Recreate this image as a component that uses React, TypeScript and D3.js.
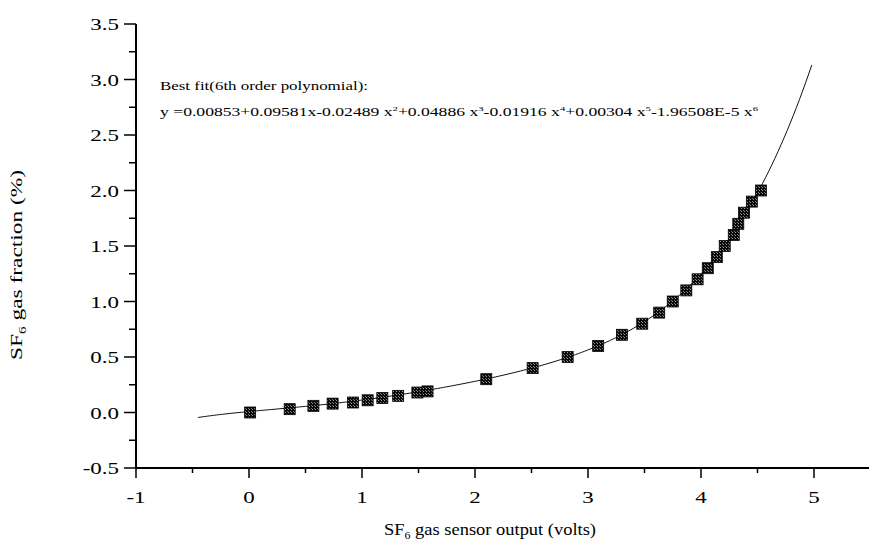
import React from "react";
import * as d3 from "d3";

// Measured data points: sensor output (volts) vs SF6 fraction (%)
const sensorVolts = [0.01, 0.36, 0.57, 0.74, 0.92, 1.05, 1.18, 1.32, 1.49, 1.58, 2.1, 2.51, 2.82, 3.09, 3.3, 3.48, 3.63, 3.75, 3.87, 3.97, 4.06, 4.14, 4.21, 4.29, 4.33, 4.38, 4.45, 4.53];
const sf6Fraction = [0.0, 0.03, 0.06, 0.08, 0.09, 0.11, 0.13, 0.15, 0.18, 0.19, 0.3, 0.4, 0.5, 0.6, 0.7, 0.8, 0.9, 1.0, 1.1, 1.2, 1.3, 1.4, 1.5, 1.6, 1.7, 1.8, 1.9, 2.0];

// Best-fit 6th order polynomial coefficients (c0..c6), as printed on the chart
const fitCoefficients = [0.00853, 0.09581, -0.02489, 0.04886, -0.01916, 0.00304, -1.96508e-5];
const fitRange = [-0.45, 4.98];

const xTicks = [-1, 0, 1, 2, 3, 4, 5];
const xMinorTicks = [-0.5, 0.5, 1.5, 2.5, 3.5, 4.5, 5.5];
const yTicks = [-0.5, 0.0, 0.5, 1.0, 1.5, 2.0, 2.5, 3.0, 3.5];
const yMinorTicks = [-0.25, 0.25, 0.75, 1.25, 1.75, 2.25, 2.75, 3.25];

const FONT = "'Liberation Serif', 'Times New Roman', serif";

export default function App() {
  const W = 869, H = 544;
  const x = d3.scaleLinear().domain([-1, 5.5]).range([136, 136 + 6.5 * 113.0]);
  const y = d3.scaleLinear().domain([-0.5, 3.5]).range([468, 24]);

  const poly = (v: number) => fitCoefficients.reduce((s, c, i) => s + c * Math.pow(v, i), 0);
  const n = 200;
  const fitPts: [number, number][] = d3.range(n + 1).map((i) => {
    const v = fitRange[0] + ((fitRange[1] - fitRange[0]) * i) / n;
    return [v, poly(v)];
  });
  const line = d3.line<[number, number]>().x((d) => x(d[0])).y((d) => y(d[1]));

  const ms = 11;
  const pts = sensorVolts.map((v, i) => [v, sf6Fraction[i]]);

  const sx = 1.35;

  return (
    <svg width={W} height={H} style={{ position: "absolute", left: 0, top: 0, background: "#fff" }}>
      <defs>
        <pattern id="tex" width="3" height="3" patternUnits="userSpaceOnUse">
          <rect width="3" height="3" fill="#0a0a0a" />
          <rect x="0" y="1" width="1" height="1" fill="#999" />
          <rect x="2" y="0" width="1" height="1" fill="#777" />
        </pattern>
      </defs>
      <rect width={W} height={H} fill="#fff" />

      {/* axes */}
      <line x1={x(-1)} x2={W} y1={y(-0.5)} y2={y(-0.5)} stroke="#000" strokeWidth={2} />
      <line x1={x(-1)} x2={x(-1)} y1={y(-0.5)} y2={y(3.5)} stroke="#000" strokeWidth={2} />

      {xTicks.map((t) => (
        <g key={"xt" + t}>
          <line x1={x(t)} x2={x(t)} y1={y(-0.5)} y2={y(-0.5) + 10} stroke="#000" strokeWidth={1.5} />
          <text
            transform={`translate(${x(t)},${y(-0.5) + 35}) scale(${sx},1)`}
            textAnchor="middle"
            fontFamily={FONT}
            fontSize={17}
            fill="#000"
          >
            {t}
          </text>
        </g>
      ))}
      {xMinorTicks.map((t) => (
        <line key={"xm" + t} x1={x(t)} x2={x(t)} y1={y(-0.5)} y2={y(-0.5) + 5} stroke="#000" strokeWidth={1.5} />
      ))}
      {yTicks.map((t) => (
        <g key={"yt" + t}>
          <line x1={x(-1) - 12} x2={x(-1)} y1={y(t)} y2={y(t)} stroke="#000" strokeWidth={1.5} />
          <text
            transform={`translate(${x(-1) - 17},${y(t) + 6}) scale(${sx},1)`}
            textAnchor="end"
            fontFamily={FONT}
            fontSize={17}
            fill="#000"
          >
            {t.toFixed(1)}
          </text>
        </g>
      ))}
      {yMinorTicks.map((t) => (
        <line key={"ym" + t} x1={x(-1) - 7} x2={x(-1)} y1={y(t)} y2={y(t)} stroke="#000" strokeWidth={1.5} />
      ))}

      {/* fit curve */}
      <path d={line(fitPts) || ""} fill="none" stroke="#111" strokeWidth={1} />

      {/* markers */}
      {pts.map((p, i) => (
        <rect
          key={"p" + i}
          x={x(p[0]) - ms / 2}
          y={y(p[1]) - ms / 2}
          width={ms}
          height={ms}
          fill="url(#tex)"
          stroke="#000"
          strokeWidth={0.8}
        />
      ))}

      {/* annotation */}
      <text x={160} y={90} fontFamily={FONT} fontSize={11.5} textLength={208} lengthAdjust="spacingAndGlyphs" fill="#000">
        Best fit(6th order polynomial):
      </text>
      <text x={160} y={116} fontFamily={FONT} fontSize={11.5} textLength={598} lengthAdjust="spacingAndGlyphs" fill="#000">
        y =0.00853+0.09581x-0.02489 x<tspan dy={-5} fontSize={7}>2</tspan>
        <tspan dy={5}>+0.04886 x</tspan>
        <tspan dy={-5} fontSize={7}>3</tspan>
        <tspan dy={5}>-0.01916 x</tspan>
        <tspan dy={-5} fontSize={7}>4</tspan>
        <tspan dy={5}>+0.00304 x</tspan>
        <tspan dy={-5} fontSize={7}>5</tspan>
        <tspan dy={5}>-1.96508E-5 x</tspan>
        <tspan dy={-5} fontSize={7}>6</tspan>
      </text>

      {/* axis titles */}
      <text x={490} y={535} textAnchor="middle" fontFamily={FONT} fontSize={17} fill="#000" textLength={212} lengthAdjust="spacingAndGlyphs">
        SF<tspan dy={4} fontSize={11}>6</tspan>
        <tspan dy={-4}> gas sensor output (volts)</tspan>
      </text>
      <text
        transform={`translate(22,265) rotate(-90)`}
        textAnchor="middle"
        fontFamily={FONT}
        fontSize={17}
        fill="#000"
        textLength={190}
        lengthAdjust="spacingAndGlyphs"
      >
        SF<tspan dy={4} fontSize={11}>6</tspan>
        <tspan dy={-4}> gas fraction (%)</tspan>
      </text>
    </svg>
  );
}
